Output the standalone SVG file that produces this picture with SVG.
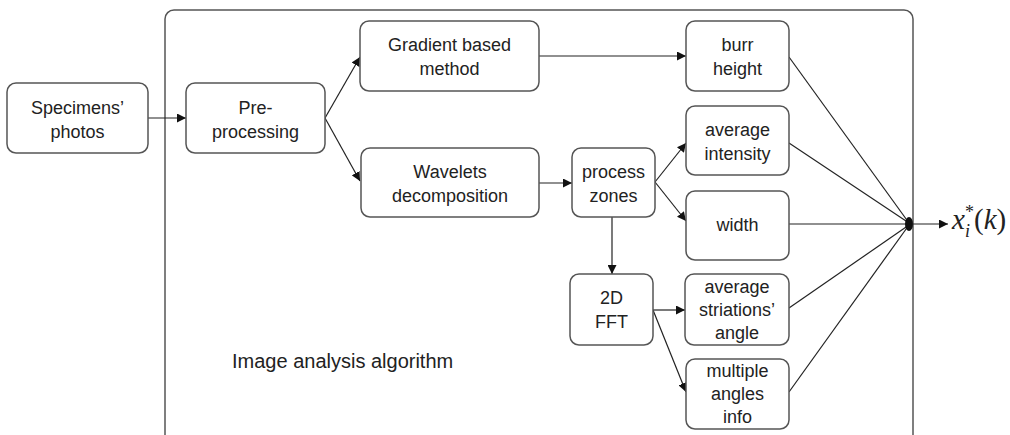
<svg xmlns="http://www.w3.org/2000/svg" width="1010" height="435" viewBox="0 0 1010 435">
<defs>
<marker id="ah" viewBox="0 0 10 10" refX="10" refY="5" markerWidth="9" markerHeight="9" markerUnits="userSpaceOnUse" orient="auto">
<path d="M0,0 L10,5 L0,10 z" fill="#111"/>
</marker>
<style>
.box{fill:#fff;stroke:#555;stroke-width:1.5}
.lbl{font-family:"Liberation Sans",Arial,sans-serif;font-size:18px;fill:#222;text-anchor:middle}
.edge{stroke:#222;stroke-width:1.2;fill:none}
.arr{stroke:#222;stroke-width:1.2;fill:none;marker-end:url(#ah)}
</style>
</defs>
<rect width="1010" height="435" fill="#fff"/>
<g id="container">
<rect x="165" y="10" width="748" height="445" rx="9" fill="none" stroke="#555" stroke-width="1.5"/>
<text x="232" y="368" style="font-family:'Liberation Sans',Arial,sans-serif;font-size:20px;fill:#222">Image analysis algorithm</text>
</g>
<g id="connectors">
<line class="arr" x1="148" y1="118" x2="186" y2="118"/>
<line class="arr" x1="325" y1="118" x2="360" y2="57"/>
<line class="arr" x1="325" y1="118" x2="360" y2="181"/>
<line class="arr" x1="539" y1="56" x2="686" y2="56"/>
<line class="arr" x1="539" y1="183" x2="572" y2="183"/>
<line class="arr" x1="655" y1="182" x2="686" y2="143"/>
<line class="arr" x1="655" y1="182" x2="686" y2="221"/>
<line class="arr" x1="612" y1="217" x2="612" y2="274"/>
<line class="arr" x1="653" y1="310" x2="685" y2="310"/>
<line class="arr" x1="653" y1="310" x2="686" y2="392"/>
<line class="edge" x1="789" y1="57" x2="909" y2="223"/>
<line class="edge" x1="789" y1="143" x2="909" y2="223"/>
<line class="edge" x1="789" y1="224" x2="909" y2="224"/>
<line class="edge" x1="789" y1="308" x2="909" y2="225"/>
<line class="edge" x1="789" y1="392" x2="909" y2="225"/>
<ellipse cx="909" cy="224" rx="4" ry="7" fill="#111"/>
<line class="arr" x1="912" y1="224" x2="948" y2="224"/>
</g>
<g id="specimens">
<rect class="box" x="7" y="83" width="141" height="70" rx="9"/>
<text class="lbl" x="77.5" y="114">Specimens’</text>
<text class="lbl" x="77.5" y="138">photos</text>
</g>
<g id="preprocessing">
<rect class="box" x="186" y="83" width="139" height="70" rx="9"/>
<text class="lbl" x="255.5" y="114">Pre-</text>
<text class="lbl" x="255.5" y="138">processing</text>
</g>
<g id="gradient">
<rect class="box" x="360" y="21" width="179" height="70" rx="9"/>
<text class="lbl" x="449.5" y="51">Gradient based</text>
<text class="lbl" x="449.5" y="75">method</text>
</g>
<g id="wavelets">
<rect class="box" x="361" y="148" width="178" height="69" rx="9"/>
<text class="lbl" x="450" y="178">Wavelets</text>
<text class="lbl" x="450" y="202">decomposition</text>
</g>
<g id="zones">
<rect class="box" x="572" y="148" width="83" height="69" rx="9"/>
<text class="lbl" x="613.5" y="178">process</text>
<text class="lbl" x="613.5" y="202">zones</text>
</g>
<g id="burr">
<rect class="box" x="686" y="21" width="103" height="70" rx="9"/>
<text class="lbl" x="737.5" y="51">burr</text>
<text class="lbl" x="737.5" y="75">height</text>
</g>
<g id="intensity">
<rect class="box" x="686" y="106" width="103" height="69" rx="9"/>
<text class="lbl" x="737.5" y="136">average</text>
<text class="lbl" x="737.5" y="160">intensity</text>
</g>
<g id="width">
<rect class="box" x="686" y="191" width="103" height="69" rx="9"/>
<text class="lbl" x="737.5" y="231">width</text>
</g>
<g id="fft">
<rect class="box" x="570" y="274" width="83" height="71" rx="9"/>
<text class="lbl" x="611.5" y="304">2D</text>
<text class="lbl" x="611.5" y="328">FFT</text>
</g>
<g id="striations">
<rect class="box" x="685" y="274" width="104" height="71" rx="9"/>
<text class="lbl" x="737" y="293">average</text>
<text class="lbl" x="737" y="316">striations’</text>
<text class="lbl" x="737" y="339">angle</text>
</g>
<g id="angles">
<rect class="box" x="686" y="359" width="103" height="70" rx="9"/>
<text class="lbl" x="737.5" y="377">multiple</text>
<text class="lbl" x="737.5" y="400">angles</text>
<text class="lbl" x="737.5" y="423">info</text>
</g>
<g id="output">
<text x="952" y="229" style="font-family:'Liberation Serif','Times New Roman',serif;font-size:29px;font-style:italic;fill:#222">x</text>
<text x="965" y="237" style="font-family:'Liberation Serif','Times New Roman',serif;font-size:18px;font-style:italic;fill:#222">i</text>
<text x="965" y="218" style="font-family:'Liberation Serif','Times New Roman',serif;font-size:18px;fill:#222">*</text>
<text x="974" y="229" style="font-family:'Liberation Serif','Times New Roman',serif;font-size:29px;fill:#222">(<tspan font-style="italic">k</tspan>)</text>
</g>
</svg>
